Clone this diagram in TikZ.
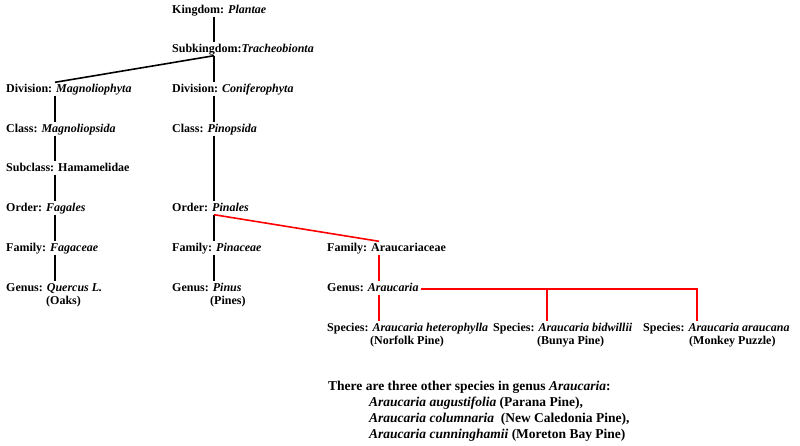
\documentclass[tikz,border=0pt]{standalone}
\usepackage{fontspec}
\setmainfont{Liberation Serif}
\begin{document}
\begin{tikzpicture}[x=1pt,y=-1pt,
  font=\fontsize{12}{14}\selectfont\bfseries,
  lbl/.style={anchor=base west, inner xsep=0pt, inner ysep=1.5pt, text height=8pt, text depth=2pt},
  notetxt/.style={anchor=base west, inner sep=0pt, font=\fontsize{13.5}{16}\selectfont\bfseries},
  blk/.style={line width=1.6pt, black},
  rd/.style={line width=1.6pt, red}]
\useasboundingbox[fill=white] (0,0) rectangle (800,445);
% connector columns
\coordinate (xl) at (55,0);
\coordinate (xm) at (214,0);
\coordinate (xr) at (379,0);
\coordinate (x2) at (547,0);
\coordinate (x3) at (697,0);
% middle column
\node[lbl] (king) at (172,13) {Kingdom: \textit{Plantae}};
\node[lbl] (subk) at (172,52) {Subkingdom:\textit{Tracheobionta}};
\node[lbl] (divC) at (172,92) {Division: \textit{Coniferophyta}};
\node[lbl] (clsP) at (172,132) {Class: \textit{Pinopsida}};
\node[lbl] (ordP) at (172,211) {Order: \textit{Pinales}};
\node[lbl] (famP) at (172,251) {Family: \textit{Pinaceae}};
\node[lbl] (genP) at (172,291) {Genus: \textit{Pinus}};
\node[lbl] (genPn) at (210,304) {(Pines)};
% left column
\node[lbl] (divM) at (6,92) {Division: \textit{Magnoliophyta}};
\node[lbl] (clsM) at (6,132) {Class: \textit{Magnoliopsida}};
\node[lbl] (subH) at (6,171) {Subclass: Hamamelidae};
\node[lbl] (ordF) at (6,211) {Order: \textit{Fagales}};
\node[lbl] (famF) at (6,251) {Family: \textit{Fagaceae}};
\node[lbl] (genQ) at (6,291) {Genus: \textit{Quercus L.}};
\node[lbl] (genQn) at (46,304) {(Oaks)};
% right part
\node[lbl] (famA) at (327,251) {Family: Araucariaceae};
\node[lbl] (genA) at (327,291) {Genus: \textit{Araucaria}};
\node[lbl] (sp1) at (327,331) {Species: \textit{Araucaria heterophylla}};
\node[lbl] (sp1n) at (370,344) {(Norfolk Pine)};
\node[lbl] (sp2) at (493,331) {Species: \textit{Araucaria bidwillii}};
\node[lbl] (sp2n) at (537,344) {(Bunya Pine)};
\node[lbl] (sp3) at (643,331) {Species: \textit{Araucaria araucana}};
\node[lbl] (sp3n) at (689,344) {(Monkey Puzzle)};
% note
\node[notetxt] (note) at (328,390) {There are three other species in genus \textit{Araucaria}:};
\node[notetxt] (note1) at (369,406) {\textit{Araucaria augustifolia} (Parana Pine),};
\node[notetxt] (note2) at (369,422) {\textit{Araucaria columnaria}\ \ (New Caledonia Pine),};
\node[notetxt] (note3) at (369,438) {\textit{Araucaria cunninghamii} (Moreton Bay Pine)};
% black connectors
\draw[blk] (king.south -| xm) -- (subk.north -| xm);
\draw[blk] (subk.south -| xm) -- (divC.north -| xm);
\draw[blk] (subk.south -| xm) -- (divM.north -| xl);
\draw[blk] (divC.south -| xm) -- (clsP.north -| xm);
\draw[blk] (clsP.south -| xm) -- (ordP.north -| xm);
\draw[blk] (ordP.south -| xm) -- (famP.north -| xm);
\draw[blk] (famP.south -| xm) -- (genP.north -| xm);
\draw[blk] (divM.south -| xl) -- (clsM.north -| xl);
\draw[blk] (clsM.south -| xl) -- (subH.north -| xl);
\draw[blk] (subH.south -| xl) -- (ordF.north -| xl);
\draw[blk] (ordF.south -| xl) -- (famF.north -| xl);
\draw[blk] (famF.south -| xl) -- (genQ.north -| xl);
% red connectors
\draw[rd] (ordP.south -| xm) -- (famA.north -| xr);
\draw[rd] (famA.south -| xr) -- (genA.north -| xr);
\draw[rd] (genA.south -| xr) -- (sp1.north -| xr);
\draw[rd] ([xshift=2pt]genA.mid east) -- (genA.mid east -| x3) -- (sp3.north -| x3);
\draw[rd] (genA.mid east -| x2) -- (sp2.north -| x2);
\end{tikzpicture}
\end{document}
